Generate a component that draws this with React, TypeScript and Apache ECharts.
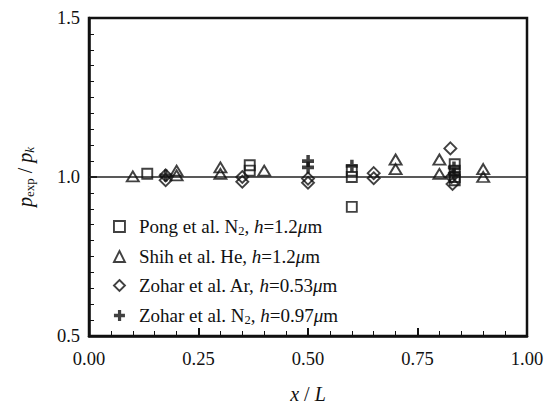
import React, { useEffect, useRef } from "react";
import * as echarts from "echarts";

// ---- data ----
const pongN2: [number, number][] = [
  [0.133, 1.01],
  [0.367, 1.037],
  [0.367, 1.02],
  [0.6, 1.02],
  [0.6, 1.0],
  [0.6, 0.906],
  [0.835, 1.04],
  [0.835, 1.02],
  [0.835, 1.0],
  [0.835, 0.99],
];
const shihHe: [number, number][] = [
  [0.1, 1.002],
  [0.2, 1.02],
  [0.2, 1.005],
  [0.3, 1.03],
  [0.3, 1.01],
  [0.4, 1.02],
  [0.7, 1.055],
  [0.7, 1.025],
  [0.8, 1.055],
  [0.8, 1.01],
  [0.9, 1.025],
  [0.9, 1.0],
];
const zoharAr: [number, number][] = [
  [0.175, 1.005],
  [0.175, 0.99],
  [0.35, 1.0],
  [0.35, 0.985],
  [0.5, 0.995],
  [0.5, 0.982],
  [0.65, 1.012],
  [0.65, 0.996],
  [0.825, 1.09],
  [0.828, 1.0],
  [0.83, 0.978],
];
const zoharN2: [number, number][] = [
  [0.175, 1.005],
  [0.5, 1.05],
  [0.5, 1.03],
  [0.6, 1.035],
  [0.833, 1.03],
  [0.833, 1.01],
];
const refLine: [number, number][] = [
  [0, 1],
  [1, 1],
];
const seriesNames = ["pong", "shih", "zoharAr", "zoharN2"];
const legendLabels: Record<string, string> = {
  pong: "{sp|}{r|Pong et al. N}{s|2}{r|, }{i|h}{r|=1.2}{i|μ}{r|m}",
  shih: "{sp|}{r|Shih et al. He, }{i|h}{r|=1.2}{i|μ}{r|m}",
  zoharAr: "{sp|}{r|Zohar et al. Ar, }{i|h}{r|=0.53}{i|μ}{r|m}",
  zoharN2: "{sp|}{r|Zohar et al. N}{s|2}{r|, }{i|h}{r|=0.97}{i|μ}{r|m}",
};

const FONT = "Liberation Serif";
const INK = "#111";
const PLUS = "path://M4,0H7.2V3.8H11V7.2H7.2V11H4V7.2H0V3.8H4Z";

export default function App() {
  const ref = useRef<HTMLDivElement>(null);
  useEffect(() => {
    if (!ref.current) return;
    const chart = echarts.init(ref.current, undefined, { renderer: "svg" });
    const hollow = {
      color: "rgba(0,0,0,0)",
      borderColor: INK,
      borderWidth: 1.9,
    };
    const richText = {
      sp: { width: 9, fontFamily: FONT, fontSize: 19, lineHeight: 20 },
      r: { fontFamily: FONT, fontSize: 19, color: INK, lineHeight: 20 },
      i: { fontFamily: FONT, fontSize: 19, color: INK, fontStyle: "italic", lineHeight: 20 },
      s: { fontFamily: FONT, fontSize: 12.5, color: INK, padding: [8, 0, 0, 0], lineHeight: 20 },
    };
    chart.setOption({
      animation: false,
      textStyle: { fontFamily: FONT },
      grid: {
        left: 89,
        right: 25,
        top: 18,
        bottom: 67,
        show: true,
        borderColor: INK,
        borderWidth: 2.5,
        backgroundColor: "transparent",
      },
      xAxis: {
        type: "value",
        min: 0,
        max: 1,
        interval: 0.25,
        axisLine: { show: true, lineStyle: { color: INK, width: 2.5 } },
        axisTick: { show: true, inside: true, length: 8, lineStyle: { color: INK, width: 2 } },
        minorTick: { show: true, splitNumber: 5, length: 5, lineStyle: { color: INK, width: 1 } },
        splitLine: { show: false },
        axisLabel: {
          formatter: (v: number) => v.toFixed(2),
          fontFamily: FONT,
          fontSize: 18.5,
          color: INK,
          margin: 13,
        },
        name: "{i|x}{r| / }{i|L}",
        nameLocation: "middle",
        nameGap: 48,
        nameTextStyle: {
          fontFamily: FONT,
          rich: {
            i: { fontFamily: FONT, fontSize: 20, fontStyle: "italic", color: INK },
            r: { fontFamily: FONT, fontSize: 20, color: INK },
          },
        },
      },
      yAxis: {
        type: "value",
        min: 0.5,
        max: 1.5,
        interval: 0.5,
        axisLine: { show: true, lineStyle: { color: INK, width: 2.5 } },
        axisTick: { show: true, inside: true, length: 8, lineStyle: { color: INK, width: 2 } },
        minorTick: { show: true, splitNumber: 10, length: 5, lineStyle: { color: INK, width: 1 } },
        splitLine: { show: false },
        axisLabel: {
          formatter: (v: number) => v.toFixed(1),
          fontFamily: FONT,
          fontSize: 18.5,
          color: INK,
          margin: 9,
        },
        name: "{i|p}{s|exp}{r| / }{i|p}{si|k}",
        nameLocation: "middle",
        nameRotate: 90,
        nameGap: 53,
        nameTextStyle: {
          fontFamily: FONT,
          rich: {
            i: { fontFamily: FONT, fontSize: 20, fontStyle: "italic", color: INK, lineHeight: 22 },
            r: { fontFamily: FONT, fontSize: 20, color: INK, lineHeight: 22 },
            s: { fontFamily: FONT, fontSize: 13, color: INK, padding: [8, 0, 0, 0], lineHeight: 22 },
            si: { fontFamily: FONT, fontSize: 13, fontStyle: "italic", color: INK, padding: [8, 0, 0, 0], lineHeight: 22 },
          },
        },
      },
      legend: {
        orient: "vertical",
        left: 113,
        top: 216,
        padding: 0,
        itemWidth: 11,
        itemHeight: 11,
        itemGap: 10,
        selectedMode: false,
        data: [
          { name: "pong", icon: "rect", itemStyle: hollow },
          { name: "shih", icon: "triangle", itemStyle: hollow },
          { name: "zoharAr", icon: "diamond", itemStyle: { ...hollow } },
          { name: "zoharN2", icon: PLUS, itemStyle: { color: INK, borderWidth: 0 } },
        ],
        formatter: (name: string) => legendLabels[name],
        textStyle: { fontFamily: FONT, fontSize: 19, color: INK, rich: richText },
      },
      series: [
        {
          name: "ref",
          type: "line",
          data: refLine,
          symbol: "none",
          silent: true,
          lineStyle: { color: "#222", width: 1.5 },
          z: 1,
        },
        {
          name: seriesNames[0],
          type: "scatter",
          data: pongN2,
          symbol: "rect",
          symbolSize: 10,
          itemStyle: hollow,
          emphasis: { disabled: true },
          z: 3,
        },
        {
          name: seriesNames[1],
          type: "scatter",
          data: shihHe,
          symbol: "triangle",
          symbolSize: [12, 10],
          itemStyle: hollow,
          emphasis: { disabled: true },
          z: 3,
        },
        {
          name: seriesNames[2],
          type: "scatter",
          data: zoharAr,
          symbol: "diamond",
          symbolSize: 12,
          itemStyle: hollow,
          emphasis: { disabled: true },
          z: 3,
        },
        {
          name: seriesNames[3],
          type: "scatter",
          data: zoharN2,
          symbol: PLUS,
          symbolSize: 12,
          itemStyle: { color: INK, borderWidth: 0 },
          emphasis: { disabled: true },
          z: 4,
        },
      ],
    });
    return () => chart.dispose();
  }, []);
  return <div ref={ref} style={{ width: 552, height: 409, position: "absolute", left: 0, top: 0 }} />;
}
